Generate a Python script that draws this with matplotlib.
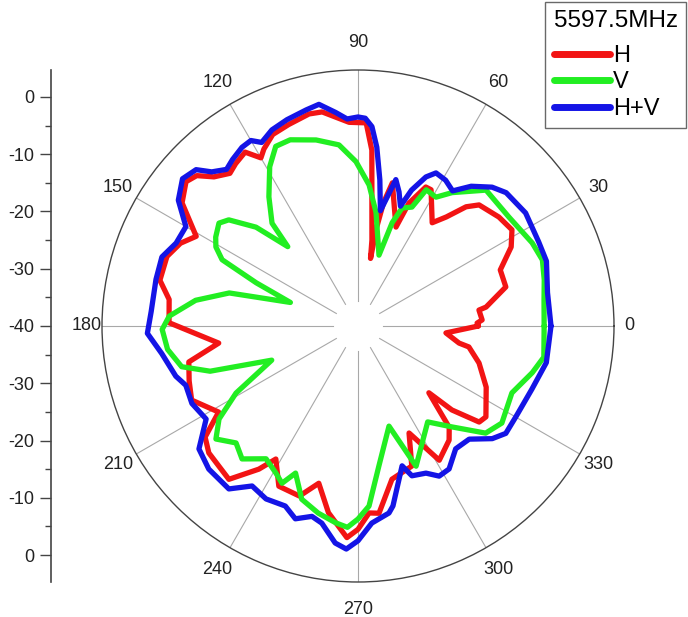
import numpy as np
import matplotlib
matplotlib.use("Agg")
import matplotlib.pyplot as plt

plt.rcParams['font.family'] = ['Liberation Sans', 'DejaVu Sans']

# radiation pattern, angle in degrees, level in dB
h_ang = [0, 1.4, 2.8, 7.5, 8.4, 14.8, 21.5, 27.3, 32, 37.7, 45, 47.8, 51, 54.3, 61.8, 64, 67.5, 69,
         76.5, 78.3, 79.3, 79.5, 80.8, 83.7, 85.5, 87.7, 92.5, 99.5, 103, 109, 114, 118, 120, 123, 127,
         130, 134, 137, 140, 145, 151, 155, 160, 167, 172, 179, 187, 192, 198, 204, 211.7, 216, 220.4,
         229.9, 235.3, 238.3, 243.7, 251, 256, 261, 267, 270, 273.4, 276.4, 282.5, 291, 295.5, 301.2,
         308.6, 312, 316.7, 318.2, 321.6, 324.6, 334.5, 343, 349.3, 350.4, 355.5, 360]
h_db = [-19.0, -19.2, -18.3, -18.7, -17.4, -13.3, -13.3, -9.9, -8.3, -8.9, -10.1, -11.9, -15.5, -17.8,
        -13.0, -13.0, -16.8, -21.5, -14.3, -18.0, -22.5, -28.0, -24.8, -17.9, -9.2, -4.5, -4.4, -2.1,
        -2.0, -2.8, -3.4, -5.0, -6.1, -3.8, -4.5, -5.2, -3.8, -1.5, -0.8, -2.5, -7.7, -5.8, -4.5, -4.5,
        -6.7, -7.0, -15.5, -9.8, -9.0, -8.2, -11.4, -7.0, -5.8, -5.0, -9.6, -12.7, -8.8, -8.6, -11.7,
        -7.0, -3.0, -4.5, -7.3, -7.1, -12.6, -13.8, -19.3, -12.6, -14.5, -16.2, -23.0, -18.0, -13.0,
        -12.6, -15.2, -17.9, -20.3, -22.1, -24.6, -19.0]

v_ang = [0, 8, 13.9, 19.7, 25.5, 35.8, 46.7, 54.8, 58.8, 63.4, 65.6, 69.5, 71.7, 73.5, 81, 85.5, 90.7,
         96, 102.7, 110, 114.6, 119, 124.6, 129.9, 131.5, 135.9, 140.6, 143.5, 148, 150.9, 154, 157,
         160.8, 165.6, 171, 177, 181, 187, 193, 197, 201.6, 208.8, 213.8, 218.5, 223.8, 228.9, 235.3,
         240.8, 244.2, 247, 252, 258, 263.6, 267, 270, 273.5, 278.5, 287.2, 292.5, 306, 313, 320, 326,
         336.5, 345, 350.5, 360]
v_db = [-7.5, -7.2, -6.5, -5.8, -6.3, -7.5, -7.4, -11.5, -13.7, -13.4, -17.2, -18.0, -21.0, -27.1,
        -19.9, -15.3, -11.3, -8.2, -6.7, -5.4, -5.5, -8.2, -12.6, -16.6, -21.5, -15.2, -10.8, -9.8,
        -10.7, -11.6, -13.6, -20.7, -27.5, -16.8, -11.3, -7.0, -5.8, -6.5, -8.4, -13.0, -23.8, -15.7,
        -10.8, -8.3, -10.5, -9.2, -11.8, -10.6, -9.5, -12.1, -8.2, -6.6, -5.4, -4.8, -6.3, -8.5, -15.3,
        -21.7, -13.5, -19.3, -15.9, -10.9, -9.7, -10.7, -8.5, -7.1, -7.5]

hv_ang = [0, 10, 19, 25, 34, 42, 46, 51, 55, 59, 63, 65.5, 68.5, 70.5, 73, 75.5, 77, 79, 81.5, 84, 86,
          88, 90, 93, 96, 100, 103.5, 109, 113.7, 117.7, 120, 123, 127, 130, 133.5, 136, 140, 145, 150,
          155.5, 160.6, 167, 176, 182, 188, 195.4, 199, 205, 211.5, 217.7, 223.8, 231.6, 236.5, 242,
          248, 252, 256.4, 259.6, 264, 267, 270, 274, 279.4, 281, 287.5, 289.8, 294.8, 298.4, 302.5,
          308.5, 314.5, 320, 324, 330.3, 340, 349, 360]
hv_db = [-6.3, -6.4, -5.2, -5.2, -4.7, -5.2, -6.3, -8.6, -11.2, -10.3, -10.0, -11.4, -14.5, -17.8,
         -15.5, -13.6, -16.5, -19.5, -14.2, -8.6, -5.1, -3.7, -3.5, -3.8, -2.5, -0.7, -1.2, -1.9, -2.6,
         -3.8, -2.6, -2.8, -3.6, -4.3, -2.9, -0.7, 0.0, -1.7, -5.3, -5.1, -3.7, -3.8, -3.8, -3.2, -5.4,
         -7.0, -8.2, -8.0, -8.9, -4.9, -3.9, -3.7, -6.5, -5.8, -6.1, -4.6, -5.8, -5.0, -1.9, -1.0, -2.5,
         -5.5, -6.9, -8.0, -14.4, -12.2, -11.7, -10.2, -10.4, -12.6, -12.3, -9.4, -8.1, -8.2, -7.7,
         -6.5, -6.3]

theta_labels = ['0', '30', '60', '90', '120', '150', '180', '210', '240', '270', '300', '330']
radial_ticks = [0, -10, -20, -30, -40, -30, -20, -10, 0]
freq_label = '5597.5MHz'

r_min = -40
r_max = 4.7
W, H = 688, 617
cx, cy, rad = 358, 326, 256

fig = plt.figure(figsize=(W / 100, H / 100), dpi=100)
ax = fig.add_axes([(cx - rad) / W, (H - cy - rad) / H, 2 * rad / W, 2 * rad / H], projection='polar')
ax.set_ylim(r_min, r_max)
ax.set_yticks([])
ax.grid(False)
ax.spines['polar'].set_color('#444444')
ax.spines['polar'].set_linewidth(1.0)

# spokes, leaving an empty disc in the middle
r_hole = r_min + 25 / 229 * 40
for a in range(0, 360, 30):
    t = np.deg2rad(a)
    ax.plot([t, t], [r_hole, r_max], color='#a8a8a8', lw=0.8, zorder=1)

ax.set_xticks(np.deg2rad(np.arange(0, 360, 30)))
ax.set_xticklabels([])
ax.set_xticks(np.deg2rad(np.arange(15, 360, 30)), minor=True)
ax.tick_params(axis='x', which='major', direction='in', length=6, color='#444444', width=1)
ax.tick_params(axis='x', which='minor', direction='in', length=5, color='#444444', width=1)

for i, lab in enumerate(theta_labels):
    a = np.deg2rad(30 * i)
    d = 271 + 12 * abs(np.sin(a))
    ax.text(a, r_min + d / 229 * 40, lab, ha='center', va='center', fontsize=13,
            color='#222222', clip_on=False)

style = dict(lw=3.8, solid_joinstyle='round', solid_capstyle='round')
lh, = ax.plot(np.deg2rad(h_ang), h_db, color='#f21414', label='H', zorder=3, **style)
lv, = ax.plot(np.deg2rad(v_ang), v_db, color='#22ee22', label='V', zorder=4, **style)
lhv, = ax.plot(np.deg2rad(hv_ang), hv_db, color='#1414e6', label='H+V', zorder=5, **style)

# separate radial scale on the left
span = r_max - r_min
ax2 = fig.add_axes([51 / W, (H - cy - rad) / H, 0.02, 2 * rad / H])
ax2.set_ylim(-span, span)
ax2.set_xlim(0, 1)
ax2.patch.set_visible(False)
for s in ['top', 'right', 'bottom']:
    ax2.spines[s].set_visible(False)
ax2.spines['left'].set_color('#444444')
ax2.spines['left'].set_linewidth(1.2)
ax2.set_xticks([])
ax2.set_yticks(np.arange(-40, 41, 10))
ax2.set_yticklabels([str(v) for v in radial_ticks[::-1]])
ax2.set_yticks(np.arange(-35, 36, 10), minor=True)
ax2.tick_params(axis='y', which='major', length=8, width=1, color='#444444', labelsize=13,
                labelcolor='#222222', pad=4)
ax2.tick_params(axis='y', which='minor', length=4, width=1, color='#444444')

leg = fig.legend(handles=[lh, lv, lhv], loc='upper right', bbox_to_anchor=(686 / W, 1 - 2 / H),
                 title=freq_label, title_fontsize=17.5, fontsize=17, frameon=True, fancybox=False,
                 handlelength=2.4, handletextpad=0.12, labelspacing=0.2, borderpad=0.35,
                 borderaxespad=0)
leg.get_frame().set_edgecolor('#444444')
leg.get_frame().set_linewidth(1.0)
leg._legend_box.align = 'left'
leg._legend_box.sep = 9
for line in leg.get_lines():
    line.set_linewidth(5)
    line.set_solid_capstyle('round')

fig.savefig('out.png', dpi=100)
